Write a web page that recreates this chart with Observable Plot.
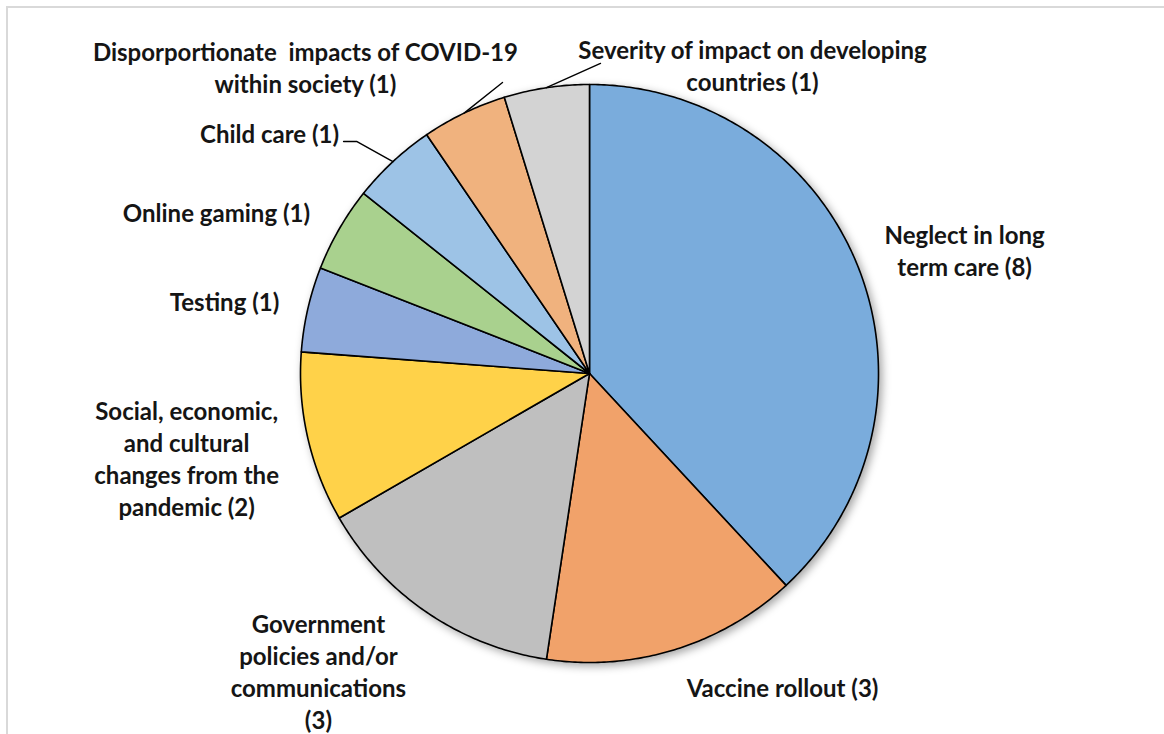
<!DOCTYPE html>
<html><head><meta charset="utf-8">
<script src="https://cdn.jsdelivr.net/npm/d3@7"></script>
<script src="https://cdn.jsdelivr.net/npm/@observablehq/plot@0.6"></script>
<style>
html,body{margin:0;padding:0;background:#fff;}
#wrap{position:relative;width:1164px;height:734px;overflow:hidden;background:#fff;}
#frame{position:absolute;left:6px;top:6px;width:1200px;height:800px;border-left:2px solid #d9d9d9;border-top:2px solid #d9d9d9;}
#chart{position:absolute;left:0;top:0;}
</style></head><body>
<div id="wrap"><div id="frame"></div><div id="chart"></div></div>
<script>
// ---- data ----
const categories = [
  "Neglect in long term care",
  "Vaccine rollout",
  "Government policies and/or communications",
  "Social, economic, and cultural changes from the pandemic",
  "Testing",
  "Online gaming",
  "Child care",
  "Disporportionate impacts of COVID-19 within society",
  "Severity of impact on developing countries"
];
const counts = [8, 3, 3, 2, 1, 1, 1, 1, 1];
const labelTexts = [
  "Neglect in long\nterm care (8)",
  "Vaccine rollout (3)",
  "Government\npolicies and/or\ncommunications\n(3)",
  "Social, economic,\nand cultural\nchanges from the\npandemic (2)",
  "Testing (1)",
  "Online gaming (1)",
  "Child care (1)",
  "Disporportionate\u00a0 impacts of COVID-19\nwithin society (1)",
  "Severity of impact on developing\ncountries (1)"
];
const sliceColors = ["#7aacdc", "#f1a26a", "#bfbfbf", "#ffd248", "#8eaadb", "#a9d18e", "#9dc3e6", "#f0b27e", "#d3d3d3"];

// ---- layout (chart units: pie radius = 1, centre = 0,0) ----
const labelAnchors = [
  [1.298, 0.427], [0.668, -1.083], [-0.938, -1.029], [-1.394, -0.292],
  [-1.263, 0.253], [-1.291, 0.561], [-1.107, 0.834], [-0.983, 1.061], [0.564, 1.069]
];
const leaderStarts = { // index -> points from label toward slice
  6: [[-0.851, 0.803], [-0.806, 0.803]],
  7: [[-0.301, 1.007]],
  8: [[0.038, 1.073]]
};

const W = 1164, H = 734, CX = 589, CY = 373, R = 289;

// ---- build slices ----
const pie = d3.pie().sort(null).value(d => d.value)(categories.map((c, i) => ({cat: c, value: counts[i]})));
const slicePts = [];
pie.forEach(p => {
  const n = Math.max(8, Math.ceil((p.endAngle - p.startAngle) / 0.01));
  slicePts.push({cat: p.data.cat, x: 0, y: 0});
  for (let k = 0; k <= n; k++) {
    const a = p.startAngle + (p.endAngle - p.startAngle) * k / n;
    slicePts.push({cat: p.data.cat, x: Math.sin(a), y: Math.cos(a)});
  }
});
const leaders = [];
Object.entries(leaderStarts).forEach(([i, pts]) => {
  const p = pie[+i];
  const mid = (p.startAngle + p.endAngle) / 2;
  pts.forEach(q => leaders.push({id: i, x: q[0], y: q[1]}));
  leaders.push({id: i, x: Math.sin(mid), y: Math.cos(mid)});
});
const labelData = categories.map((c, i) => ({text: labelTexts[i], x: labelAnchors[i][0], y: labelAnchors[i][1]}));

const chart = Plot.plot({
  width: W, height: H,
  marginLeft: 0, marginRight: 0, marginTop: 0, marginBottom: 0,
  x: {domain: [-CX / R, (W - CX) / R], axis: null},
  y: {domain: [(CY - H) / R, CY / R], axis: null},
  color: {domain: categories, range: sliceColors},
  style: {background: "transparent", fontFamily: "Lato, 'Open Sans', sans-serif"},
  marks: [
    Plot.line(slicePts, {x: "x", y: "y", z: "cat", fill: "cat", stroke: "#000", strokeWidth: 1.6, curve: "linear-closed", strokeLinejoin: "round"}),
    Plot.line(leaders, {x: "x", y: "y", z: "id", stroke: "#000", strokeWidth: 1.4}),
    Plot.text(labelData, {x: "x", y: "y", text: "text", fontSize: 24, fontWeight: 700, fill: "#151515", lineHeight: 1.33, textAnchor: "middle"})
  ]
});

// soft shadow behind the pie
const ns = "http://www.w3.org/2000/svg";
const defs = document.createElementNS(ns, "defs");
defs.innerHTML = '<filter id="pieShadow" x="-20%" y="-20%" width="140%" height="140%"><feDropShadow dx="3" dy="3" stdDeviation="4" flood-color="#000" flood-opacity="0.35"/></filter>';
chart.insertBefore(defs, chart.firstChild);
const sliceGroup = chart.querySelector('g[aria-label="line"]');
if (sliceGroup) sliceGroup.setAttribute("filter", "url(#pieShadow)");

document.getElementById("chart").appendChild(chart);
</script>
</body></html>
